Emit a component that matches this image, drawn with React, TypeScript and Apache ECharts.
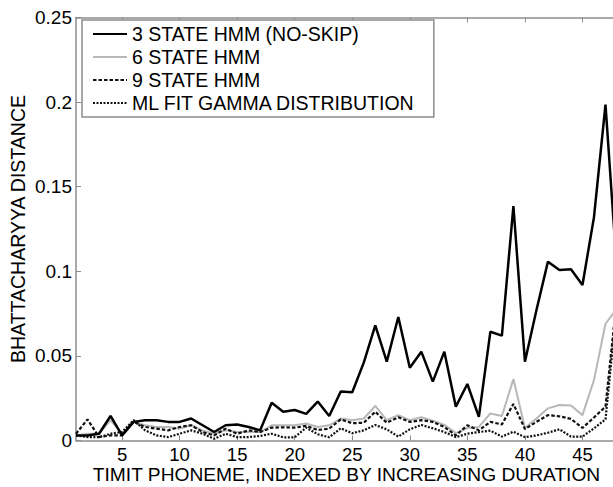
import React, { useEffect, useRef } from "react";
import * as echarts from "echarts";

const phonemeIndex = Array.from({ length: 48 }, (_, i) => i + 1);

const threeState = [
  0.003, 0.003, 0.004, 0.0145, 0.003, 0.011, 0.012, 0.012, 0.011, 0.011,
  0.013, 0.009, 0.005, 0.009, 0.0095, 0.008, 0.006, 0.0223, 0.017, 0.018,
  0.0157, 0.023, 0.0145, 0.029, 0.0285, 0.046, 0.068, 0.0466, 0.073, 0.043,
  0.0525, 0.0348, 0.0525, 0.02, 0.0334, 0.014, 0.0643, 0.062, 0.1386, 0.0466,
  0.077, 0.1057, 0.1008, 0.1012, 0.0919, 0.132, 0.1985, 0.1,
];
const sixState = [
  0.003, 0.004, 0.004, 0.012, 0.004, 0.011, 0.009, 0.008, 0.008, 0.007,
  0.009, 0.006, 0.004, 0.006, 0.005, 0.005, 0.005, 0.009, 0.009, 0.009,
  0.01, 0.008, 0.009, 0.013, 0.012, 0.013, 0.0204, 0.012, 0.015, 0.012,
  0.0137, 0.0117, 0.0092, 0.0044, 0.0074, 0.008, 0.016, 0.0145, 0.0363, 0.0074,
  0.013, 0.019, 0.021, 0.0207, 0.015, 0.0357, 0.069, 0.078,
];
const nineState = [
  0.004, 0.0125, 0.002, 0.003, 0.003, 0.011, 0.008, 0.007, 0.006, 0.008,
  0.009, 0.005, 0.003, 0.007, 0.004, 0.006, 0.005, 0.0076, 0.0078, 0.0076,
  0.0086, 0.0062, 0.007, 0.0125, 0.0102, 0.0105, 0.017, 0.0105, 0.0137, 0.011,
  0.012, 0.011, 0.008, 0.003, 0.009, 0.006, 0.011, 0.0095, 0.0216, 0.0068,
  0.011, 0.015, 0.0143, 0.0128, 0.0074, 0.0136, 0.02, 0.085,
];
const mlGamma = [
  0.003, 0.002, 0.002, 0.004, 0.005, 0.012, 0.006, 0.003, 0.002, 0.004,
  0.006, 0.004, 0.001, 0.004, 0.002, 0.002, 0.0027, 0.004, 0.0019, 0.0019,
  0.0076, 0.0037, 0.0019, 0.0072, 0.0043, 0.006, 0.0092, 0.0066, 0.0023, 0.0066,
  0.0092, 0.0072, 0.005, 0.002, 0.004, 0.005, 0.0058, 0.0023, 0.0052, 0.002,
  0.003, 0.0046, 0.0066, 0.0023, 0.0023, 0.0072, 0.0125, 0.08,
];
const seriesNames = [
  "3 STATE HMM (NO-SKIP)",
  "6 STATE HMM",
  "9 STATE HMM",
  "ML FIT GAMMA DISTRIBUTION",
];
const xTicks = [5, 10, 15, 20, 25, 30, 35, 40, 45];

const FONT = "'Liberation Sans', Arial, sans-serif";
const AXIS_COLOR = "#8c8c8c";

export default function App() {
  const ref = useRef<HTMLDivElement>(null);
  useEffect(() => {
    if (!ref.current) return;
    const chart = echarts.init(ref.current, undefined, { renderer: "svg" });
    const pair = (arr: number[]) => phonemeIndex.map((x, i) => [x, arr[i]]);
    const baseX = {
      type: "value" as const,
      min: 1,
      max: 48,
      splitLine: { show: false },
      axisLine: { show: true, lineStyle: { color: AXIS_COLOR, width: 1.5 } },
    };
    chart.setOption({
      animation: false,
      backgroundColor: "#fff",
      grid: {
        left: 76,
        top: 17.5,
        width: 541,
        height: 423,
        containLabel: false,
        outerBoundsMode: "none",
      },
      legend: {
        orient: "vertical",
        left: 82,
        top: 20,
        padding: [4, 18, 4, 10],
        itemGap: 3,
        itemWidth: 34,
        itemHeight: 14,
        backgroundColor: "#fff",
        borderColor: AXIS_COLOR,
        borderWidth: 1.5,
        borderRadius: 0,
        selectedMode: false,
        itemStyle: { opacity: 0 },
        textStyle: { fontFamily: FONT, fontSize: 19.5, color: "#000" },
        data: seriesNames,
      },
      xAxis: [
        {
          ...baseX,
          position: "bottom",
          axisTick: {
            show: true,
            inside: true,
            length: 5,
            customValues: xTicks,
            lineStyle: { color: AXIS_COLOR },
          },
          axisLabel: {
            show: true,
            customValues: xTicks,
            fontFamily: FONT,
            fontSize: 18.5,
            lineHeight: 15,
            color: "#000",
            margin: 6.5,
          },
          name: "TIMIT PHONEME, INDEXED BY INCREASING DURATION",
          nameLocation: "middle",
          nameGap: 25,
          nameMoveOverlap: false,
          nameTextStyle: { fontFamily: FONT, fontSize: 19.2, lineHeight: 17, color: "#000" },
        },
        {
          ...baseX,
          position: "top",
          axisTick: {
            show: true,
            inside: true,
            length: 5,
            customValues: xTicks,
            lineStyle: { color: AXIS_COLOR },
          },
          axisLabel: { show: false },
        },
      ],
      yAxis: {
        type: "value",
        min: 0,
        max: 0.25,
        interval: 0.05,
        splitLine: { show: false },
        axisLine: { show: true, lineStyle: { color: AXIS_COLOR, width: 1.5 } },
        axisTick: { show: true, inside: true, length: 5, lineStyle: { color: AXIS_COLOR } },
        axisLabel: {
          fontFamily: FONT,
          fontSize: 19,
          color: "#000",
          margin: 4,
        },
        name: "BHATTACHARYYA DISTANCE",
        nameLocation: "middle",
        nameGap: 48,
        nameMoveOverlap: false,
        nameRotate: 90,
        nameTextStyle: { fontFamily: FONT, fontSize: 19.5, color: "#000" },
      },
      series: [
        {
          name: seriesNames[1],
          type: "line",
          data: pair(sixState),
          symbol: "none",
          z: 2,
          lineStyle: { color: "#b8b8b8", width: 2 },
          itemStyle: { color: "#b8b8b8" },
        },
        {
          name: seriesNames[2],
          type: "line",
          data: pair(nineState),
          symbol: "none",
          z: 3,
          lineStyle: { color: "#111", width: 2.2, type: [3.5, 2] },
          itemStyle: { color: "#111" },
        },
        {
          name: seriesNames[3],
          type: "line",
          data: pair(mlGamma),
          symbol: "none",
          z: 3,
          lineStyle: { color: "#111", width: 2.2, type: [2, 1.5] },
          itemStyle: { color: "#111" },
        },
        {
          name: seriesNames[0],
          type: "line",
          data: pair(threeState),
          symbol: "none",
          z: 4,
          lineStyle: { color: "#000", width: 2.5 },
          itemStyle: { color: "#000" },
        },
      ],
    });
    return () => chart.dispose();
  }, []);
  return (
    <div
      ref={ref}
      style={{ position: "fixed", left: 0, top: 0, width: 613, height: 487, background: "#fff" }}
    />
  );
}
